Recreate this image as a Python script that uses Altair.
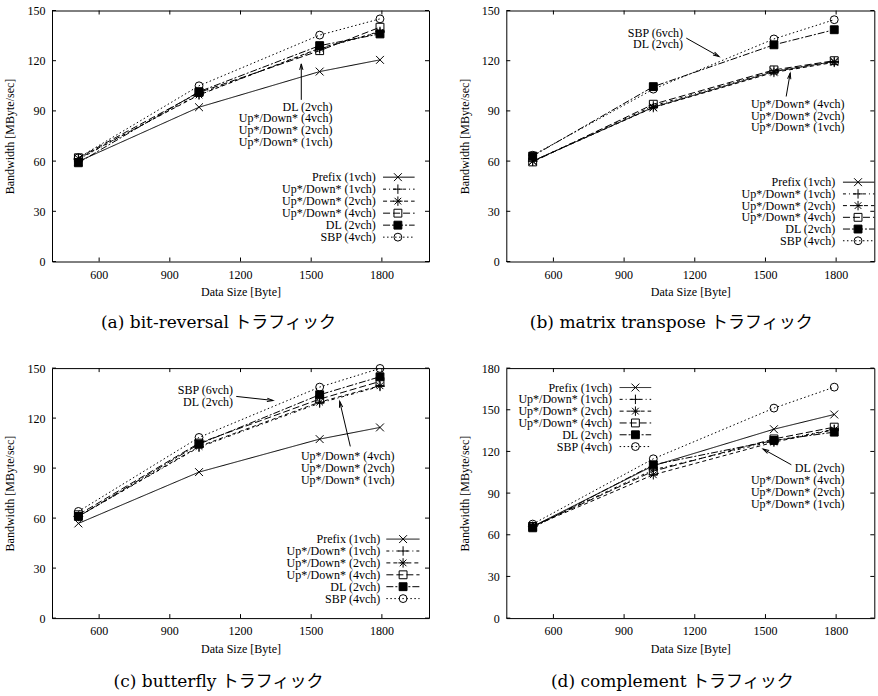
import math
import altair as alt
import pandas as pd

# ---------------- data ----------------
SERIES = ["Prefix (1vch)", "Up*/Down* (1vch)", "Up*/Down* (2vch)",
          "Up*/Down* (4vch)", "DL (2vch)", "SBP (4vch)"]
DATA_SIZE = [512, 1024, 1536, 1792]

# bandwidth values, one list per series (order of SERIES)
BITREV = [
    [59.8, 92.2, 113.5, 120.5],
    [61.0, 100.0, 127.0, 137.5],
    [61.5, 99.5, 127.5, 137.0],
    [62.0, 101.0, 126.0, 140.0],
    [59.0, 101.5, 129.0, 136.0],
    [62.0, 105.0, 135.3, 145.0],
]
TRANSPOSE = [
    [60.0, 92.2, 113.5, 119.5],
    [60.0, 93.0, 114.0, 119.5],
    [60.0, 92.0, 113.0, 119.0],
    [59.5, 94.0, 114.5, 120.0],
    [63.0, 104.5, 129.5, 138.5],
    [63.5, 103.0, 133.0, 144.5],
]
BUTTERFLY = [
    [56.8, 87.6, 107.4, 114.4],
    [61.0, 102.5, 129.0, 139.0],
    [61.0, 103.0, 129.6, 139.4],
    [62.0, 105.0, 131.4, 142.0],
    [61.0, 104.4, 134.0, 144.8],
    [64.0, 108.4, 138.6, 149.8],
]
COMPLEMENT = [
    [66.0, 109.7, 136.0, 146.6],
    [66.0, 106.8, 127.5, 136.0],
    [66.0, 103.2, 126.7, 135.6],
    [66.0, 105.8, 129.0, 137.5],
    [65.0, 110.4, 127.9, 133.9],
    [67.7, 114.7, 151.2, 166.3],
]

X_TICKS = [600, 900, 1200, 1500, 1800]
X_TICK_LABELS = ["600", "900", "1200", "1500", "1800"]
Y_TICKS_150 = [0, 30, 60, 90, 120, 150]
Y_TICKS_180 = [0, 30, 60, 90, 120, 150, 180]

CAPTIONS = ["(a) bit-reversal トラフィック", "(b) matrix transpose トラフィック",
            "(c) butterfly トラフィック", "(d) complement トラフィック"]

UD_LABELS = ["Up*/Down* (4vch)", "Up*/Down* (2vch)", "Up*/Down* (1vch)"]

# ---------------- styles ----------------
DASHES = [[1, 0], [3, 3, 1, 3], [4, 3], [7, 3], [7, 2, 2, 2], [1.5, 2.5]]
SHAPES = ["M-1,-1L1,1M-1,1L1,-1",
          "M-1.2,0L1.2,0M0,-1.2L0,1.2",
          "M-1.2,0L1.2,0M0,-1.2L0,1.2M-0.85,-0.85L0.85,0.85M-0.85,0.85L0.85,-0.85",
          "square", "square", "circle"]
FILLS = ["transparent", "transparent", "transparent", "transparent", "black", "transparent"]
ARROW_HEAD = "M-0.55,2L0,0L0.55,2"

SERIF = "Liberation Serif"
CAP_FONT = "DejaVu Serif, Noto Sans CJK JP"

dash_scale = alt.Scale(domain=SERIES, range=DASHES)
shape_scale = alt.Scale(domain=SERIES, range=SHAPES)
fill_scale = alt.Scale(domain=SERIES, range=FILLS)


def make_panel(values, ymax, yticks, W, H, xmax, caption, cap_dx, cap_dy,
               legend, notes, arrows):
    xs = alt.Scale(domain=[400, xmax], nice=False, zero=False)
    ys = alt.Scale(domain=[0, ymax], nice=False, zero=False)
    xaxis = alt.Axis(values=X_TICKS, title="Data Size [Byte]", labels=False,
                     titlePadding=25)
    yaxis = alt.Axis(values=yticks, title="Bandwidth [MByte/sec]", format="d",
                     labelOverlap=False, labelFlush=False, labelBound=False)

    def X(f):
        return alt.X(f, type="quantitative", scale=xs, axis=xaxis)

    def Y(f):
        return alt.Y(f, type="quantitative", scale=ys, axis=yaxis)

    rows = []
    for s, vals in zip(SERIES, values):
        for x, v in zip(DATA_SIZE, vals):
            rows.append({"series": s, "size": x, "bw": v})
    df = pd.DataFrame(rows)

    base = alt.Chart(df)
    lines = base.mark_line(color="black", strokeWidth=1).encode(
        x=X("size"), y=Y("bw"),
        strokeDash=alt.StrokeDash("series:N", scale=dash_scale, legend=None),
    )
    pts = base.mark_point(filled=True, stroke="black", strokeWidth=1,
                          opacity=1, size=62).encode(
        x=X("size"), y=Y("bw"),
        shape=alt.Shape("series:N", scale=shape_scale, legend=None),
        fill=alt.Fill("series:N", scale=fill_scale, legend=None),
    )

    # inward ticks on all four sides (gnuplot style)
    tx = alt.Chart(pd.DataFrame({"t": X_TICKS}))
    ty = alt.Chart(pd.DataFrame({"t": yticks}))
    tb = tx.mark_rule(color="black", strokeWidth=1).encode(
        x=X("t"), y=alt.value(H), y2=alt.value(H - 4))
    tt = tx.mark_rule(color="black", strokeWidth=1).encode(
        x=X("t"), y=alt.value(0), y2=alt.value(4))
    tl = ty.mark_rule(color="black", strokeWidth=1).encode(
        y=Y("t"), x=alt.value(0), x2=alt.value(4))
    tr = ty.mark_rule(color="black", strokeWidth=1).encode(
        y=Y("t"), x=alt.value(W - 4), x2=alt.value(W))

    # x tick labels (own data set)
    xl = alt.Chart(pd.DataFrame({"xv": [float(v) for v in X_TICKS],
                                 "xl": X_TICK_LABELS}))
    tlab = xl.mark_text(baseline="middle", align="center", font=SERIF,
                        fontSize=12, color="black").encode(
        x=X("xv"), y=alt.value(H + 13.3), text="xl:N")

    # key (legend) in graph coordinates
    ltx, ly0, lstep, lx1, lxm, lx2 = legend
    ldf = pd.DataFrame({
        "series": SERIES, "label": SERIES,
        "tx": [ltx] * 6, "x1": [lx1] * 6, "xm": [lxm] * 6, "xe": [lx2] * 6,
        "y": [ly0 - i * lstep for i in range(6)],
    })
    lb = alt.Chart(ldf)
    ltext = lb.mark_text(align="right", baseline="middle", font=SERIF,
                         fontSize=12, color="black").encode(
        x=X("tx"), y=Y("y"), text="label:N")
    lrule = lb.mark_rule(color="black", strokeWidth=1).encode(
        x=X("x1"), x2="xe:Q", y=Y("y"),
        strokeDash=alt.StrokeDash("series:N", scale=dash_scale, legend=None))
    lpts = lb.mark_point(filled=True, stroke="black", strokeWidth=1,
                         opacity=1, size=62).encode(
        x=X("xm"), y=Y("y"),
        shape=alt.Shape("series:N", scale=shape_scale, legend=None),
        fill=alt.Fill("series:N", scale=fill_scale, legend=None))

    # annotation labels
    ndf = pd.DataFrame(notes, columns=["label", "nx", "ny"])
    ntext = alt.Chart(ndf).mark_text(align="right", baseline="middle", font=SERIF,
                                     fontSize=12, color="black").encode(
        x=X("nx"), y=Y("ny"), text="label:N")

    # arrows
    arows = []
    for (x1, y1, x2, y2) in arrows:
        p1 = ((x1 - 400) / (xmax - 400) * W, H - y1 / ymax * H)
        p2 = ((x2 - 400) / (xmax - 400) * W, H - y2 / ymax * H)
        ang = math.degrees(math.atan2(p2[0] - p1[0], -(p2[1] - p1[1]))) % 360
        arows.append({"ax": x1, "ay": y1, "hx": x2, "hy": y2, "ang": ang})
    adf = pd.DataFrame(arows)
    ab = alt.Chart(adf)
    aline = ab.mark_rule(color="black", strokeWidth=1).encode(
        x=X("ax"), y=Y("ay"), x2="hx:Q", y2="hy:Q")
    ahead = ab.mark_point(shape=ARROW_HEAD, filled=False, stroke="black",
                          strokeWidth=1, opacity=1, size=36).encode(
        x=X("hx"), y=Y("hy"), angle=alt.Angle("ang:Q", scale=None))

    # sub-figure caption below the panel
    cap = alt.Chart(pd.DataFrame({"cap": [caption]})).mark_text(
        align="center", baseline="middle", font=CAP_FONT, fontSize=17,
        color="black").encode(
        x=alt.value(W / 2 + cap_dx), y=alt.value(H + cap_dy), text="cap:N")

    return alt.layer(lines, tb, tt, tl, tr, lrule, ltext, lpts, ntext,
                     aline, ahead, pts, tlab, cap).properties(width=W, height=H)


pa = make_panel(
    BITREV, 150, Y_TICKS_150, 377, 251, 2000, CAPTIONS[0], -22, 61.5,
    legend=(1774, 50.4, 7.17, 1805, 1868, 1939),
    notes=[["DL (2vch)", 1590, 92.6]] + [[t, 1590, y] for t, y in zip(UD_LABELS, [85.5, 78.5, 71.5])],
    arrows=[(1458, 96.6, 1458, 118.1)],
)
pb = make_panel(
    TRANSPOSE, 150, Y_TICKS_150, 368, 251, 1962, CAPTIONS[1], -19, 61.5,
    legend=(1796, 47.4, 7.0, 1829, 1893, 1962),
    notes=[["SBP (6vch)", 1150, 136.5], ["DL (2vch)", 1150, 129.9]]
          + [[t, 1836, y] for t, y in zip(UD_LABELS, [94.2, 87.1, 80.1])],
    arrows=[(1164, 133.5, 1303, 122.5), (1588, 98.6, 1605, 112.6)],
)
pc = make_panel(
    BUTTERFLY, 150, Y_TICKS_150, 377, 250, 2000, CAPTIONS[2], -22, 63.5,
    legend=(1793, 47.4, 7.14, 1819, 1890, 1960),
    notes=[["SBP (6vch)", 1168, 137.0], ["DL (2vch)", 1168, 129.8]]
          + [[t, 1854, y] for t, y in zip(UD_LABELS, [97.0, 89.8, 82.8])],
    arrows=[(1182, 133.0, 1338, 130.6), (1666, 103.0, 1621, 130.0)],
)
pd_ = make_panel(
    COMPLEMENT, 180, Y_TICKS_180, 368, 250, 1962, CAPTIONS[3], -18, 63.5,
    legend=(849, 166.0, 8.5, 881, 948, 1015),
    notes=[["DL (2vch)", 1836, 108.0]] + [[t, 1836, y] for t, y in zip(UD_LABELS, [99.4, 90.9, 82.5])],
    arrows=[(1610, 110.4, 1490, 121.7)],
)

chart = alt.concat(
    pa, pb, pc, pd_, columns=2,
    spacing={"row": 106.6, "column": 77.3}, bounds="flush",
).properties(
    padding={"left": 3, "top": 3.5, "right": 0, "bottom": 0},
).configure_view(
    stroke="black", strokeWidth=1,
).configure_axis(
    domain=False, ticks=False, grid=False, labelOverlap=False,
    labelFont=SERIF, labelFontSize=12, labelColor="black", labelPadding=7,
    titleFont=SERIF, titleFontSize=12, titleFontWeight="normal", titleColor="black",
).configure_axisY(
    titleX=-42.3, titleBaseline="middle",
)

chart.save("out.html", embed_options={"renderer": "svg", "actions": False})
